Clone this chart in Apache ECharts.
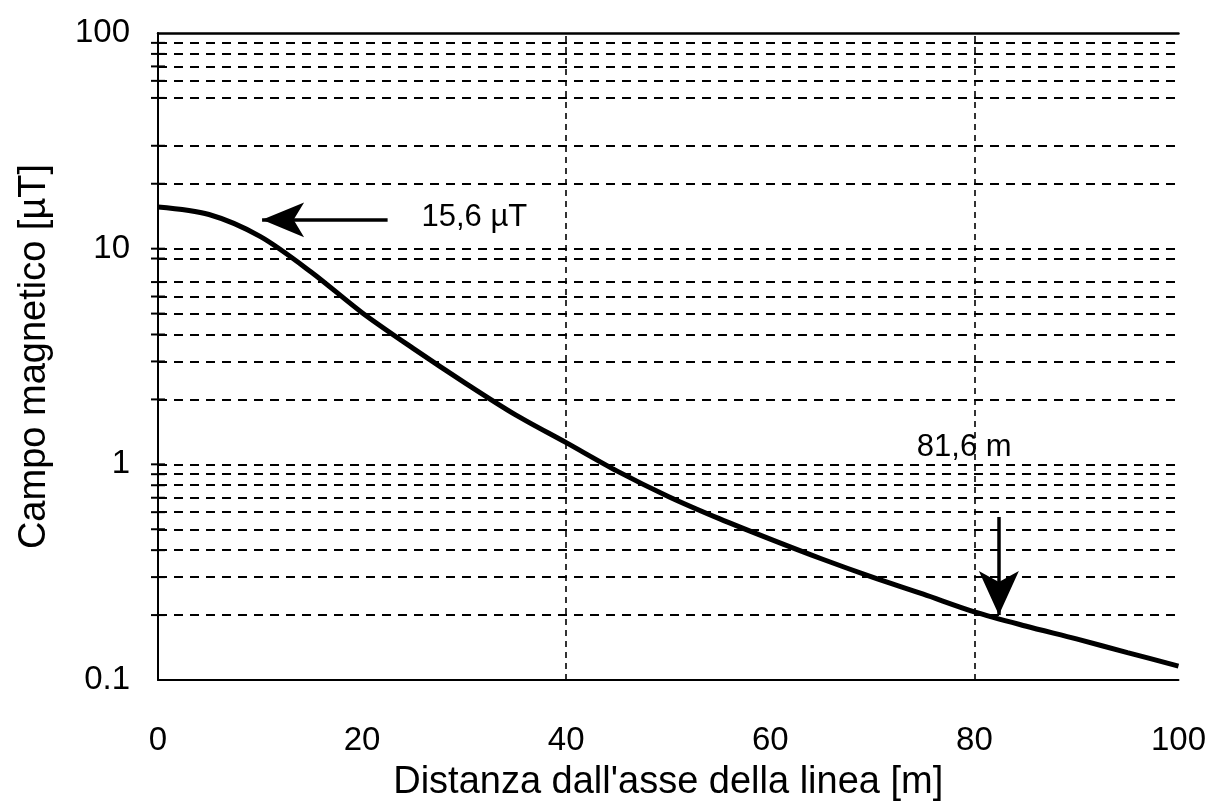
<!DOCTYPE html>
<html>
<head>
<meta charset="utf-8">
<script src="https://cdn.jsdelivr.net/npm/echarts@6/dist/echarts.min.js"></script>
<style>
  html, body { margin: 0; padding: 0; background: #fff; }
  #chart { width: 1209px; height: 807px; }
</style>
</head>
<body>
<div id="chart"></div>
<script>
// distanza [m] e campo [µT]
let distanze = [0, 5, 10, 15, 20, 25, 30, 35, 40, 45, 50, 55, 60, 65, 70, 75, 80, 85, 90, 95, 100]
let campo = [15.6, 14.4, 11.4, 7.8, 5.05, 3.45, 2.4, 1.7, 1.26, 0.93, 0.71, 0.56, 0.45, 0.365, 0.30, 0.25, 0.207, 0.178, 0.155, 0.134, 0.116]

// righe orizzontali tratteggiate (come nell'originale, alcune mancano)
let righeY = [0.2, 0.3, 0.4, 0.5, 0.6, 0.7, 0.8, 0.9, 1, 2, 3, 4, 5, 6, 7, 9, 10, 20, 30, 50, 60, 70, 80, 90]
let righeX = [40, 80]

// annotazioni: frecce [da, a] e testi
let frecciaSinistra = [[22.5, 13.6], [10.2, 13.6]]
let frecciaGiu = [[82.4, 0.57], [82.4, 0.2]]
let testi = [
  { name: '15,6 µT', value: [31, 13.9] },
  { name: '81,6 m', value: [79, 1.2] }
]

let myChart = echarts.init(document.getElementById('chart'))

let lineaGriglia = righeY.map(v => ({
  yAxis: v,
  lineStyle: { color: '#000', width: 1.8, type: [9, 7] }
}))
let lineaVert = righeX.map(v => ({
  xAxis: v,
  lineStyle: { color: '#000', width: 1.6, type: [6, 5] }
}))
function freccia(pts, size) {
  return [
    { coord: pts[0], symbol: 'none' },
    { coord: pts[1], symbol: 'arrow', symbolSize: size }
  ]
}

let option = {
  backgroundColor: '#fff',
  animation: false,
  textStyle: { fontFamily: 'Liberation Sans, Arial, sans-serif' },
  grid: {
    left: 158,
    right: 29,
    top: 33,
    bottom: 121
  },
  xAxis: [
    {
      type: 'value',
      min: 0,
      max: 100,
      interval: 20,
      name: "Distanza dall'asse della linea [m]",
      nameLocation: 'middle',
      nameGap: 84,
      nameTextStyle: { color: '#000', fontSize: 38 },
      axisLine: { show: true, onZero: false, lineStyle: { color: '#000', width: 2 } },
      axisTick: { show: false },
      splitLine: { show: false },
      axisLabel: { color: '#000', fontSize: 33, margin: 44 }
    },
    {
      type: 'value',
      position: 'top',
      min: 0,
      max: 100,
      axisLine: { show: true, lineStyle: { color: '#000', width: 2.5 } },
      axisTick: { show: false },
      axisLabel: { show: false },
      splitLine: { show: false }
    }
  ],
  yAxis: {
    type: 'log',
    logBase: 10,
    min: 0.1,
    max: 100,
    name: 'Campo magnetico [µT]',
    nameLocation: 'middle',
    nameGap: 104,
    nameTextStyle: { color: '#000', fontSize: 38 },
    axisLine: { show: true, lineStyle: { color: '#000', width: 2 } },
    axisTick: { show: false },
    splitLine: { show: false },
    axisLabel: { color: '#000', fontSize: 33, margin: 28 }
  },
  series: [
    {
      // tacche che attraversano l'asse y
      type: 'scatter',
      clip: false,
      silent: true,
      symbol: 'rect',
      symbolSize: [14, 2],
      itemStyle: { color: '#000', opacity: 1 },
      data: righeY.map(v => [0, v]),
      z: 1
    },
    {
      type: 'line',
      smooth: 0.3,
      showSymbol: false,
      lineStyle: { color: '#000', width: 5 },
      data: distanze.map((d, i) => [d, campo[i]]),
      markLine: {
        silent: true,
        symbol: 'none',
        label: { show: false },
        data: lineaGriglia.concat(lineaVert).concat([
          freccia(frecciaSinistra, [26, 42]),
          freccia(frecciaGiu, [30, 44])
        ]),
        lineStyle: { color: '#000', width: 3.5, type: 'solid' }
      },
      z: 3
    },
    {
      type: 'scatter',
      silent: true,
      symbolSize: 0,
      itemStyle: { opacity: 1 },
      label: {
        show: true,
        position: 'inside',
        formatter: '{b}',
        color: '#000',
        opacity: 1,
        fontSize: 31
      },
      data: testi,
      z: 4
    }
  ]
}

myChart.setOption(option)
</script>
</body>
</html>
